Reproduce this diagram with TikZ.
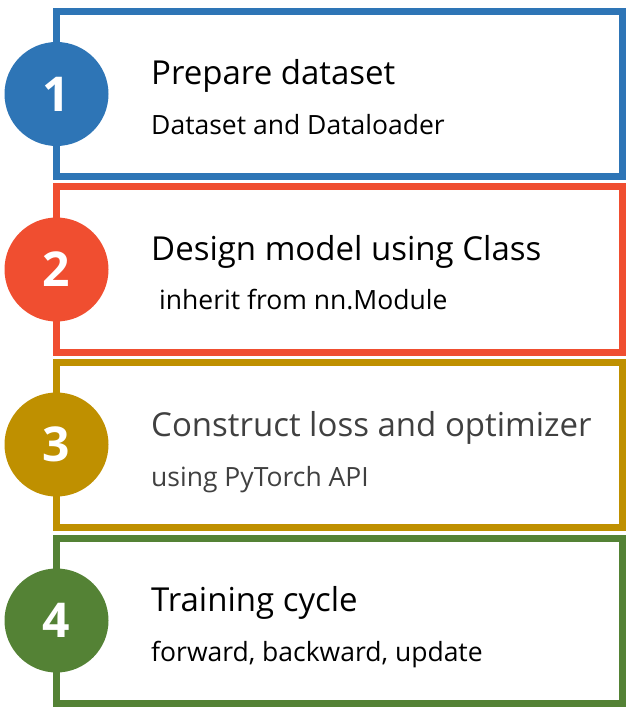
\documentclass[tikz,border=0pt]{standalone}
\usepackage{fontspec}
\setmainfont{Open Sans}
\usetikzlibrary{positioning}

\definecolor{stepblue}{HTML}{2E75B6}
\definecolor{stepred}{HTML}{F04E30}
\definecolor{stepgold}{HTML}{BF9000}
\definecolor{stepgreen}{HTML}{548235}
\definecolor{steptext}{HTML}{404040}

\tikzset{
    stagebox/.style={draw=#1, line width=7pt, minimum width=566pt, minimum height=165pt,
        inner sep=0pt, outer sep=0pt},
    stagenum/.style={circle, fill=#1, minimum size=104pt, inner sep=0pt, text=white,
        font=\bfseries\fontsize{48}{48}\selectfont},
    stagetitle/.style={anchor=base west, inner sep=0pt, font=\fontsize{33}{33}\selectfont},
    stagesub/.style={anchor=base west, inner sep=0pt, font=\fontsize{26.5}{26.5}\selectfont}
}

\begin{document}
\begin{tikzpicture}[x=1pt, y=-1pt]
    \useasboundingbox (0,0) rectangle (640,708);

    % Draw the four stage frames
    \node[stagebox=stepblue] (box1) at (339.5, 94) {};
    \node[stagebox=stepred] (box2) at (339.5, 269.5) {};
    \node[stagebox=stepgold] (box3) at (339.5, 444.5) {};
    \node[stagebox=stepgreen] (box4) at (339.5, 620.5) {};

    % Draw numbered circles on the left edges
    \node[stagenum=stepblue] (num1) at (box1.west) {1};
    \node[stagenum=stepred] (num2) at (box2.west) {2};
    \node[stagenum=stepgold] (num3) at (box3.west) {3};
    \node[stagenum=stepgreen] (num4) at (box4.west) {4};

    % Titles and sub-titles
    \node[stagetitle] (title1) at (151, 85) {Prepare dataset};
    \node[stagesub] (sub1) at (151, 135) {Dataset and Dataloader};

    \node[stagetitle] (title2) at (151, 260) {Design model using Class};
    \node[stagesub] (sub2) at (159, 309) {inherit from nn.Module};

    \node[stagetitle, text=steptext] (title3) at (151, 436) {Construct loss and optimizer};
    \node[stagesub, text=steptext] (sub3) at (151, 486) {using PyTorch API};

    \node[stagetitle] (title4) at (151, 611) {Training cycle};
    \node[stagesub] (sub4) at (151, 661) {forward, backward, update};
\end{tikzpicture}
\end{document}
